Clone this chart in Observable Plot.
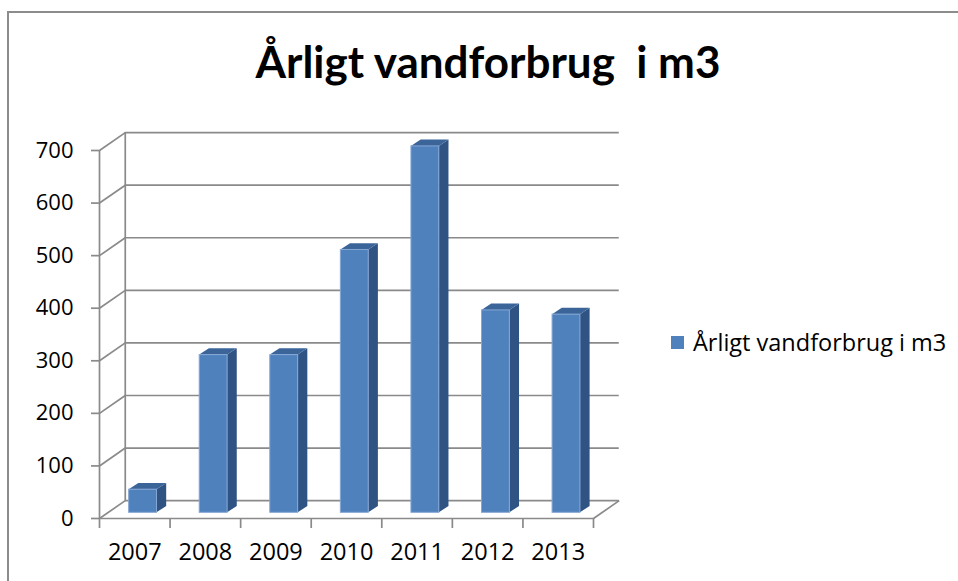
<!DOCTYPE html>
<html>
<head>
<meta charset="utf-8">
<script src="https://cdn.jsdelivr.net/npm/d3@7"></script>
<script src="https://cdn.jsdelivr.net/npm/@observablehq/plot@0.6"></script>
<style>
  body { margin: 0; background: #fff; }
  #wrap { position: relative; width: 958px; height: 581px; overflow: hidden; background: #fff; }
  #frame { position: absolute; left: 7px; top: 11px; right: -10px; bottom: -10px;
           border-left: 2px solid #8c8c8c; border-top: 2px solid #8c8c8c; }
  #chart { position: absolute; left: 0; top: 0; }
  #title { position: absolute; left: 0; width: 976px; top: 35px; text-align: center;
           font: bold 44px Lato, "Open Sans", sans-serif; white-space: pre; color: #000; }
  #legend { position: absolute; left: 671px; top: 326px; display: flex; align-items: center;
            font: 23.5px "Open Sans", sans-serif; color: #000; white-space: pre; }
  #legend .sw { width: 13px; height: 13px; background: #4F81BD; margin-right: 9px; }
</style>
</head>
<body>
<div id="wrap">
  <div id="frame"></div>
  <div id="chart"></div>
  <div id="title"></div>
  <div id="legend"><span class="sw"></span><span id="legtext"></span></div>
</div>
<script>
// ---- data ----
const years = ["2007", "2008", "2009", "2010", "2011", "2012", "2013"];
const values = [44, 300, 300, 500, 697, 385, 377];
const yTicks = [0, 100, 200, 300, 400, 500, 600, 700];
const titleText = "Årligt vandforbrug  i m3";
const seriesName = "Årligt vandforbrug i m3";

// ---- 3D look (depth offsets in data units) ----
const WX = 0.365, WY = 34;          // back wall offset
const BX0 = 0.42, BX1 = 0.815;      // bar front face within category slot
const BASE = 10.8;                  // bar sits a bit into the floor
const DX = 0.137, DY = 12;          // bar depth

const grid = "#8a8a8a";
const front = "#4F81BD", side = "#2F5383", topC = "#3B6499";

const bars = years.map((year, i) => ({year, i, v: values[i]}));
const sidePts = bars.flatMap(b => [
  {k: b.year, x: b.i + BX1, y1: BASE, y2: b.v + BASE},
  {k: b.year, x: b.i + BX1 + DX, y1: BASE + DY, y2: b.v + BASE + DY}
]);
const topPts = bars.flatMap(b => [
  {k: b.year, y: b.v + BASE, x1: b.i + BX0, x2: b.i + BX1},
  {k: b.year, y: b.v + BASE + DY, x1: b.i + BX0 + DX, x2: b.i + BX1 + DX}
]);
const n = years.length;

const chart = Plot.plot({
  width: 958, height: 581,
  marginLeft: 99, marginRight: 365, marginTop: 150, marginBottom: 63,
  x: {type: "linear", domain: [0, n]},
  y: {type: "linear", domain: [0, 700]},
  style: {fontFamily: "'Open Sans', sans-serif", fontSize: "22px", color: "#000", background: "transparent", overflow: "visible"},
  marks: [
    // back wall gridlines
    Plot.ruleY(yTicks, {y: d => d + WY, x1: () => WX, x2: () => n + WX, stroke: grid, strokeWidth: 1.7}),
    // back wall left edge
    Plot.ruleX([WX], {x: d => d, y1: () => WY, y2: () => 700 + WY, stroke: grid, strokeWidth: 1.7}),
    // side wall diagonals
    Plot.link(yTicks, {x1: () => 0, y1: d => d, x2: () => WX, y2: d => d + WY, stroke: grid, strokeWidth: 1.7}),
    // floor right diagonal
    Plot.link([0], {x1: () => n, y1: () => 0, x2: () => n + WX, y2: () => WY, stroke: grid, strokeWidth: 1.7}),
    // front floor edge and front y axis line
    Plot.ruleY([0], {y: d => d, x1: () => 0, x2: () => n, stroke: grid, strokeWidth: 1.7}),
    Plot.ruleX([0], {x: d => d, y1: () => 0, y2: () => 700, stroke: grid, strokeWidth: 1.7}),
    // bars: side, top, front
    Plot.areaY(sidePts, {x: "x", y1: "y1", y2: "y2", z: "k", fill: side}),
    Plot.areaX(topPts, {y: "y", x1: "x1", x2: "x2", z: "k", fill: topC}),
    Plot.rectY(bars, {x1: d => d.i + BX0, x2: d => d.i + BX1, y1: () => BASE, y2: d => d.v + BASE,
                      fill: front, stroke: "#86a7d4", strokeWidth: 1}),
    // axes
    Plot.axisY(yTicks, {tickSize: 8, tickPadding: 18, stroke: grid, strokeWidth: 1.7, fill: "#000", fontSize: 22}),
    Plot.axisX(d3.range(n + 1), {tickSize: 10, tickFormat: () => "", stroke: grid, strokeWidth: 1.7}),
    Plot.axisX(years.map((_, i) => i + 0.5), {tickSize: 0, tickPadding: 25, tickFormat: d => years[Math.floor(d)], fill: "#000", fontSize: 23.5})
  ]
});
document.getElementById("chart").appendChild(chart);
document.getElementById("title").textContent = titleText;
document.getElementById("legtext").textContent = seriesName;
</script>
</body>
</html>
